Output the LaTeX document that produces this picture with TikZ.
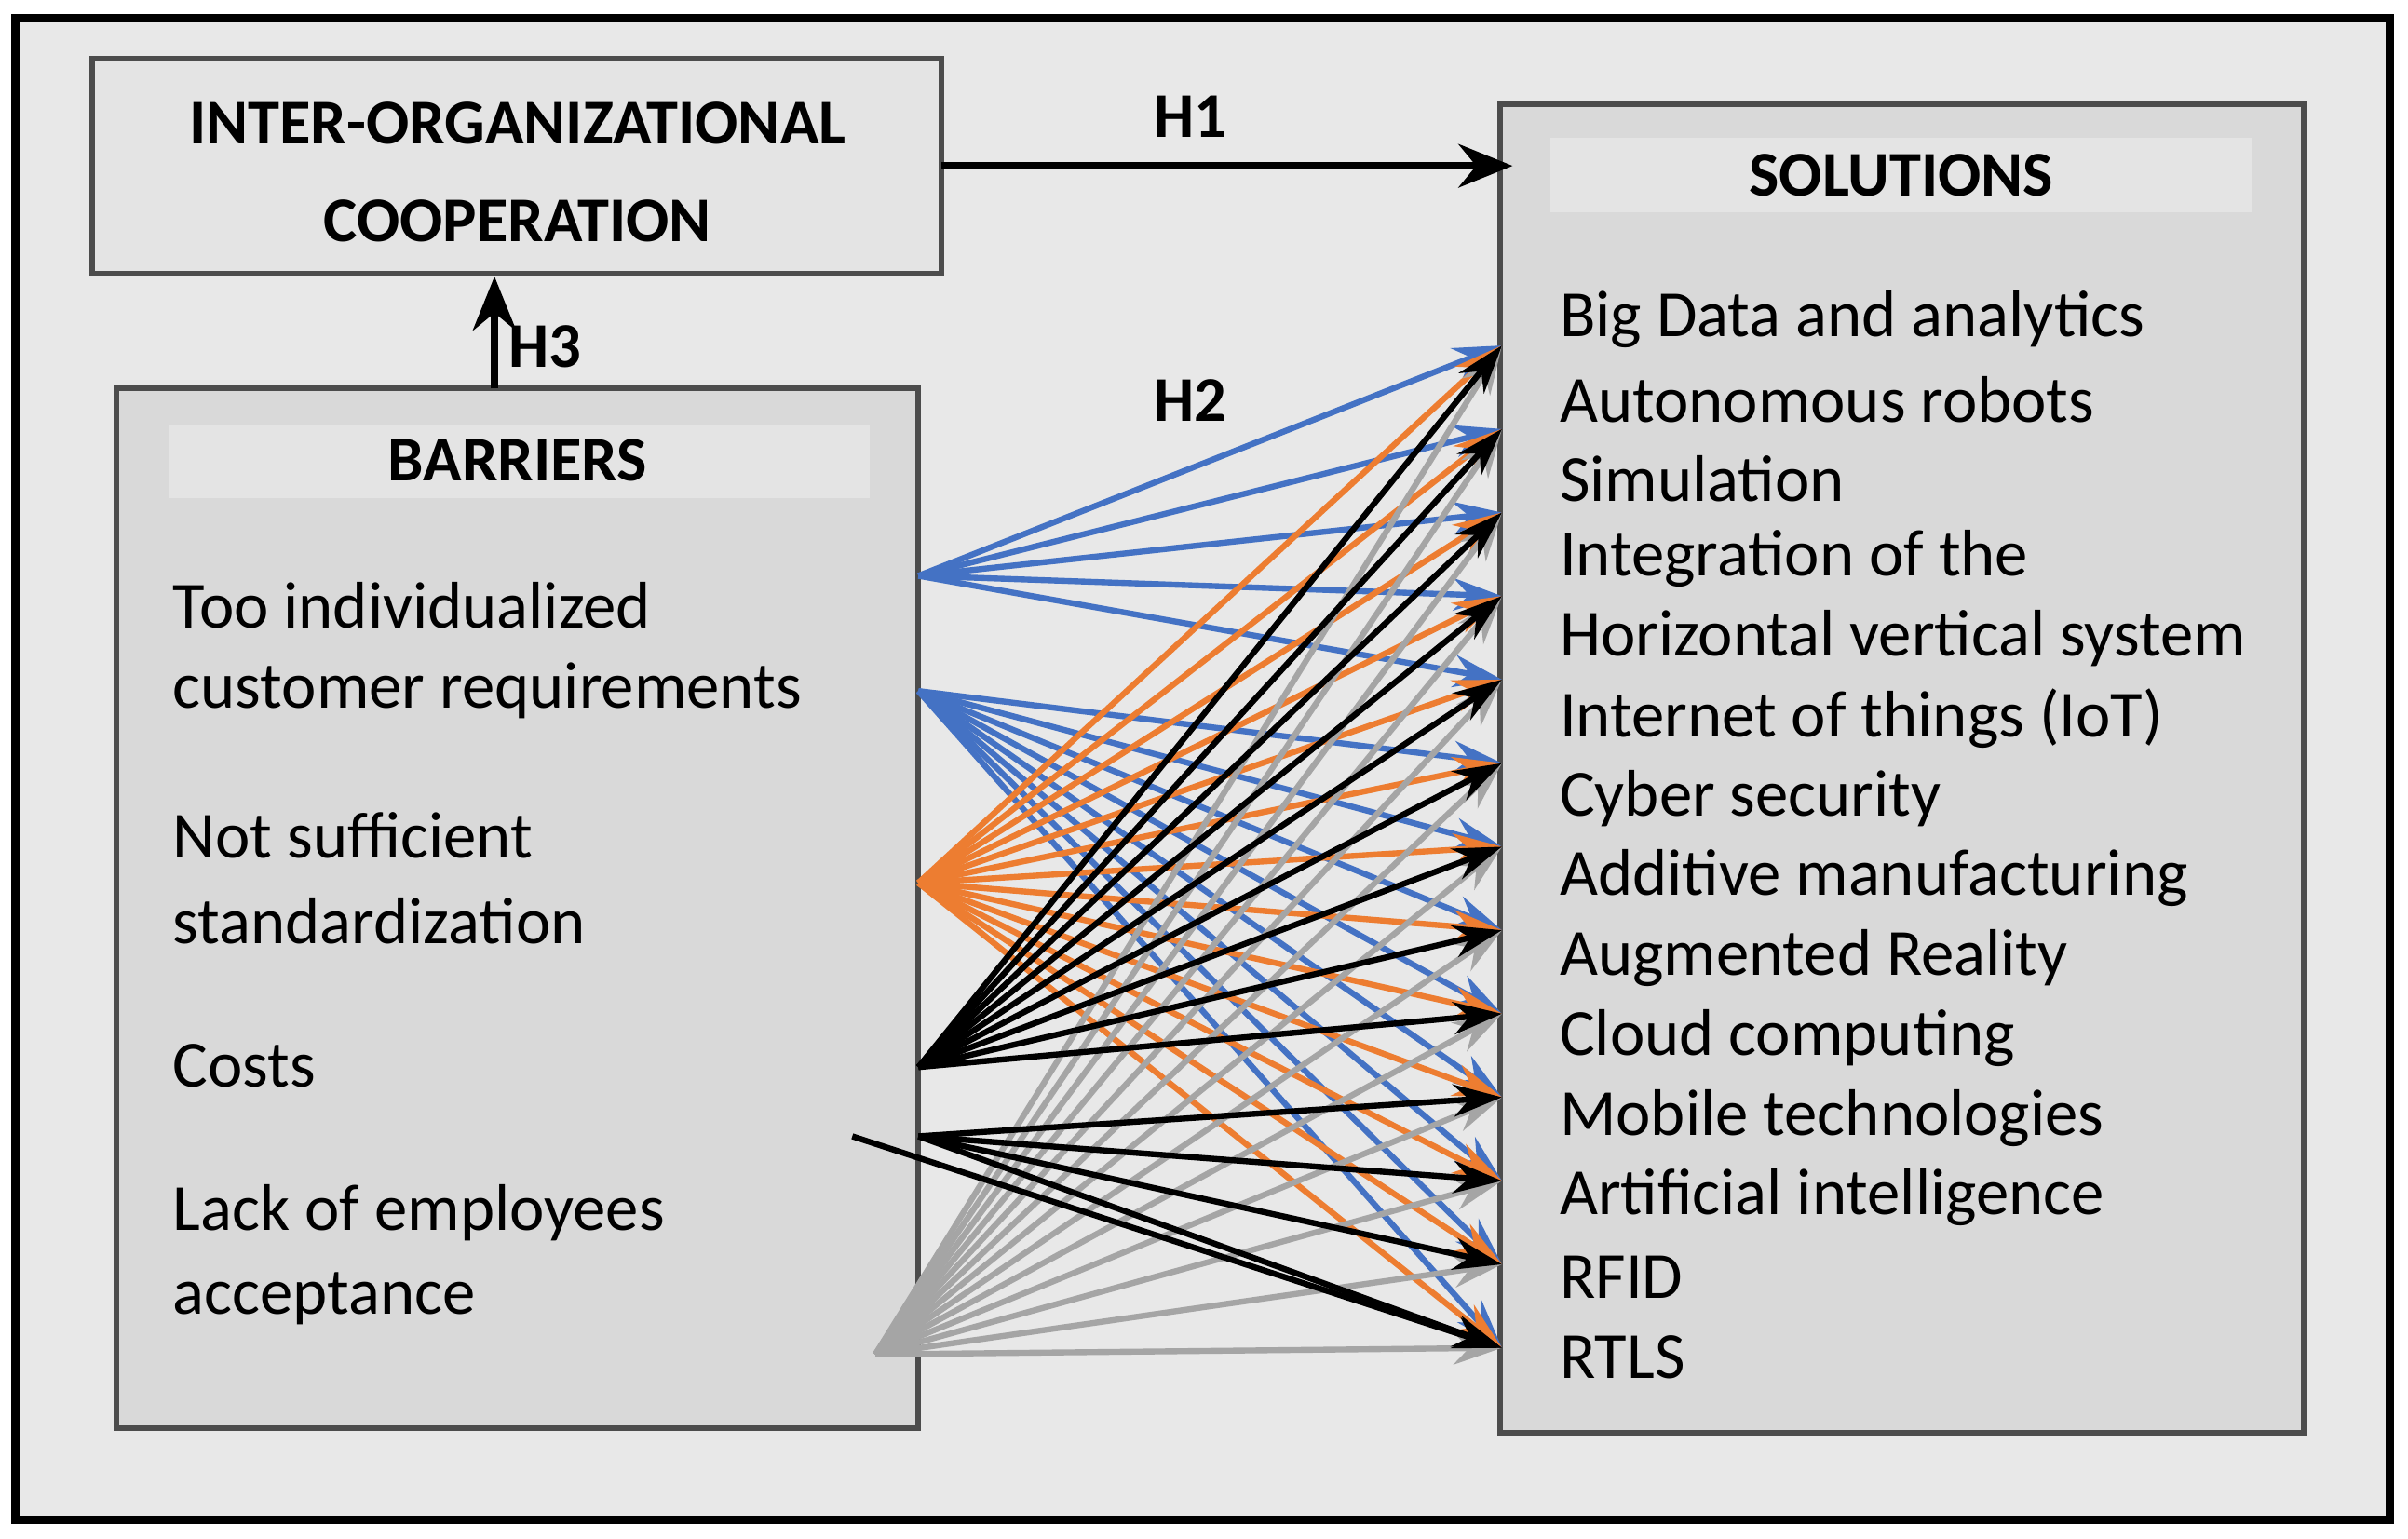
\documentclass[tikz,border=0pt]{standalone}
\usepackage{fontspec}
\setmainfont{Carlito}
\usetikzlibrary{arrows.meta}
\definecolor{bgc}{HTML}{E8E8E8}
\definecolor{boxc}{HTML}{D9D9D9}
\definecolor{hdrc}{HTML}{E4E4E4}
\definecolor{lblue}{HTML}{4472C4}
\definecolor{lorange}{HTML}{ED7D31}
\definecolor{lgray}{HTML}{A5A5A5}
\begin{document}
\begin{tikzpicture}[x=0.01cm,y=-0.01cm,
  box/.style={draw=black!70,line width=1pt},
  hdr/.style={draw=white!85!black,line width=1pt,fill=hdrc},
  item/.style={anchor=west,font=\fontsize{12.2}{15}\selectfont,inner sep=0pt},
  head/.style={font=\bfseries\fontsize{11.8}{14}\selectfont,align=center},
  con/.style={line width=1.1pt,-{Stealth[length=9pt,width=6pt]}},
  main/.style={line width=1.5pt,-{Stealth[length=10pt,width=8pt]}}]
\useasboundingbox (0,0) rectangle (1568,1002);
\fill[white] (0,0) rectangle (1568,1002);
\draw[fill=bgc,line width=1.5pt] (10,12) rectangle (1556,990);
% boxes
\draw[box,fill=hdrc] (60,38) rectangle (613,178);
\node[head] (ioc) at (337,112) {INTER-ORGANIZATIONAL\\[4pt]COOPERATION};
\draw[box,fill=boxc] (977,68) rectangle (1500,933);
\draw[hdr] (1008,88) rectangle (1468,140);
\node[head] (sol) at (1238,114) {SOLUTIONS};
\draw[box,fill=boxc] (76,253) rectangle (598,930);
\draw[hdr] (108,275) rectangle (568,326);
\node[head] (bar) at (337,300) {BARRIERS};
% barrier texts
\node[item] (b1) at (112,394) {Too individualized};
\node[item] (b1b) at (112,450) {customer requirements};
\node[item] (b2) at (112,544) {Not sufficient};
\node[item] (b2b) at (112,600) {standardization};
\node[item] (b3) at (112,694) {Costs};
\node[item] (b4) at (112,790) {Lack of employees};
\node[item] (b4b) at (112,846) {acceptance};
% solution texts
\foreach \t [count=\i] in {Big Data and analytics,Autonomous robots,Simulation,Integration of the,Horizontal vertical system,Internet of things (IoT),Cyber security,Additive manufacturing,Augmented Reality,Cloud computing,Mobile technologies,Artificial intelligence,RFID,RTLS}
  \node[item] (s\i) at (1015,{156+52*\i}) {\t};
% main arrows
\coordinate (h1s) at (613,108); \coordinate (h1e) at (985,108);
\draw[main] (h1s) -- (h1e);
\node[head] (h1) at (775,76) {H1};
\coordinate (h3s) at (322,253); \coordinate (h3e) at (322,180);
\draw[main] (h3s) -- (h3e);
\node[head] (h3) at (355,226) {H3};
\node[head] (h2) at (775,261) {H2};
% sources
\coordinate (bs1) at (598,375); \coordinate (bs2) at (598,450);
\coordinate (os) at (598,575);
\coordinate (ks1) at (598,695); \coordinate (ks2) at (598,740); \coordinate (ks3) at (555,740);
\coordinate (gs) at (570,882);
% targets
\foreach \j in {1,...,13} \coordinate (t\j) at (978,{225+54.4*(\j-1)});
\foreach \j in {1,...,5} \draw[con,lblue] (bs1) -- (t\j);
\foreach \j in {6,...,13} \draw[con,lblue] (bs2) -- (t\j);
\foreach \j in {1,...,13} \draw[con,lorange] (os) -- (t\j);
\foreach \j in {1,...,13} \draw[con,lgray] (gs) -- (t\j);
\foreach \j in {1,...,9} \draw[con,black] (ks1) -- (t\j);
\foreach \j in {10,...,13} \draw[con,black] (ks2) -- (t\j);
\draw[con,black] (ks3) -- (t13);
\end{tikzpicture}
\end{document}
